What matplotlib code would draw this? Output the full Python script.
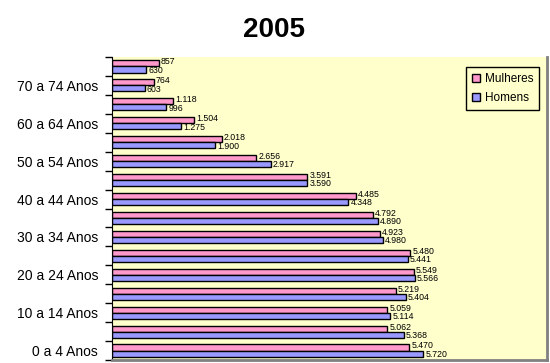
import matplotlib
matplotlib.use('Agg')
import matplotlib.pyplot as plt
import numpy as np

# age groups, bottom to top
faixas = ['0 a 4 Anos', '5 a 9 Anos', '10 a 14 Anos', '15 a 19 Anos',
          '20 a 24 Anos', '25 a 29 Anos', '30 a 34 Anos', '35 a 39 Anos',
          '40 a 44 Anos', '45 a 49 Anos', '50 a 54 Anos', '55 a 59 Anos',
          '60 a 64 Anos', '65 a 69 Anos', '70 a 74 Anos', '75 Anos e mais']
mulheres = [5470, 5062, 5059, 5219, 5549, 5480, 4923, 4792,
            4485, 3591, 2656, 2018, 1504, 1118, 764, 857]
homens = [5720, 5368, 5114, 5404, 5566, 5441, 4980, 4890,
          4348, 3590, 2917, 1900, 1275, 996, 603, 630]

def fmt(v):
    # portuguese thousands separator
    return '{:,}'.format(v).replace(',', '.')

plt.rcParams['font.family'] = ['Liberation Sans', 'DejaVu Sans']

fig = plt.figure(figsize=(5.5, 3.63), dpi=100)
ax = fig.add_axes([112/550, 3/363, 435/550, 303/363])
ax.set_facecolor('#FFFFCC')

y = np.arange(len(faixas))
h = 0.32
ax.barh(y + 0.16, mulheres, height=h, color='#FF99CC', edgecolor='black', linewidth=1, label='Mulheres')
ax.barh(y - 0.16, homens, height=h, color='#9999FF', edgecolor='black', linewidth=1, label='Homens')

# value labels
for i in range(len(faixas)):
    ax.text(mulheres[i] + 40, y[i] + 0.24, fmt(mulheres[i]), fontsize=6.3, va='center', ha='left')
    ax.text(homens[i] + 40, y[i] - 0.2, fmt(homens[i]), fontsize=6.3, va='center', ha='left')

ax.set_xlim(0, 8000)
ax.set_ylim(-0.5, len(faixas) - 0.5)

# ticks at category boundaries, labels every other category
ax.set_yticks(np.arange(-0.5, len(faixas), 1.0))
ax.set_yticklabels([])
ax.set_yticks(y[::2], minor=True)
ax.set_yticklabels(faixas[::2], minor=True, fontsize=10)
ax.tick_params(axis='y', which='major', length=5, width=1, direction='out')
ax.tick_params(axis='y', which='minor', length=0, pad=10)
ax.set_xticks([])

ax.spines['top'].set_visible(False)
ax.spines['left'].set_color('black')
ax.spines['right'].set_color('#808080')
ax.spines['right'].set_linewidth(2)
ax.spines['bottom'].set_color('#808080')
ax.spines['bottom'].set_linewidth(2)

leg = ax.legend(loc='upper right', bbox_to_anchor=(0.996, 0.985), fontsize=8.5,
                fancybox=False, framealpha=1, facecolor='#FFFFCC', edgecolor='black',
                handlelength=0.7, handleheight=0.7, handletextpad=0.4,
                borderpad=0.5, labelspacing=0.6)
leg.get_frame().set_linewidth(1)

fig.text(274/550, 1 - 30/363, '2005', fontsize=20, fontweight='bold', ha='center', va='center')

fig.savefig('out.png', dpi=100)
